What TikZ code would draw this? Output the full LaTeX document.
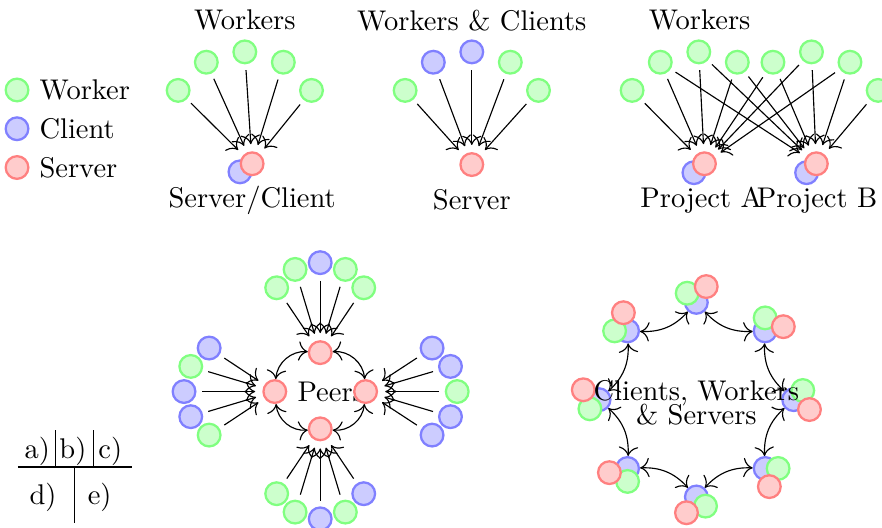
\documentclass[tikz,border=0pt]{standalone}
\usetikzlibrary{positioning,calc,arrows.meta}

\begin{document}
\begin{tikzpicture}[
        >={To[scale=1.3]},
        nodo/.style={circle, line width=0.8pt, minimum size=0.28cm, inner sep=0pt},
        worker/.style={nodo, draw=green!50, fill=green!20},
        client/.style={nodo, draw=blue!50, fill=blue!20},
        server/.style={nodo, draw=red!50, fill=red!20},
        flecha/.style={->, shorten >=2.5pt, shorten <=2pt}
    ]
                \useasboundingbox (0,0) rectangle (10.88,6.51);

                % Leyenda
                \node[worker] (lw) at (0.21,5.40) {};
                \node[client, below=0.17cm of lw] (lc) {};
                \node[server, below=0.17cm of lc] (ls) {};
                \node[right=0pt of lw] (tw) {Worker};
                \node[right=0pt of lc] (tcl) {Client};
                \node[right=0pt of ls] (tsv) {Server};

                % a) Servidor y cliente
                \node (ta) at (3.02,6.26) {Workers};
                \node[client] (a-c) at (2.96,4.39) {};
                \node[server] (a-s) at (3.11,4.49) {};
                \node (la) at (3.11,4.04) {Server/Client};
                \foreach \ang [count=\i] in {150,120,90,60,30} {
                    \node[worker] (a-w\i) at ($(3.02,4.92)+(\ang:0.95)$) {};
                    \draw[flecha] (a-w\i) -- (a-s);
                }

                % b) Servidor
                \node (tb) at (5.82,6.26) {Workers \& Clients};
                \node[server] (b-s) at (5.82,4.48) {};
                \node (lb) at (5.82,4.04) {Server};
                \foreach \ang/\tipo [count=\i] in {150/worker,120/client,90/client,60/worker,30/worker} {
                    \node[\tipo] (b-w\i) at ($(5.82,4.92)+(\ang:0.95)$) {};
                    \draw[flecha] (b-w\i) -- (b-s);
                }

                % c) Dos proyectos
                \node (tc) at (8.63,6.26) {Workers};
                \node[client] (pa-c) at (8.56,4.38) {};
                \node[server] (pa-s) at (8.69,4.49) {};
                \node[client] (pb-c) at (9.95,4.38) {};
                \node[server] (pb-s) at (10.07,4.49) {};
                \node (lpa) at (8.65,4.04) {Project A};
                \node (lpb) at (10.08,4.04) {Project B};
                \foreach \ang [count=\i] in {150,120,90,60}
                    \node[worker] (c-a\i) at ($(8.62,4.92)+(\ang:0.95)$) {};
                \foreach \ang [count=\i] in {120,90,60,30}
                    \node[worker] (c-b\i) at ($(10.01,4.92)+(\ang:0.95)$) {};
                \draw[flecha] (c-a1) -- (pa-s);
                \foreach \i in {2,3,4} {
                    \draw[flecha] (c-a\i) -- (pa-s);
                    \draw[flecha] (c-a\i) -- (pb-s);
                }
                \foreach \i in {1,2,3} {
                    \draw[flecha] (c-b\i) -- (pa-s);
                    \draw[flecha] (c-b\i) -- (pb-s);
                }
                \draw[flecha] (c-b4) -- (pb-s);

                % d) Peers
                \node (ld) at (4.08,1.68) {Peers};
                \node[server] (d-top) at (3.95,2.16) {};
                \node[server] (d-left) at (3.39,1.68) {};
                \node[server] (d-right) at (4.51,1.68) {};
                \node[server] (d-bottom) at (3.95,1.22) {};
                \foreach \ang/\tipo [count=\i] in {150/worker,120/worker,90/client,60/worker,30/worker} {
                    \node[\tipo] (d-t\i) at ($(3.95,2.65)+(\ang:0.62)$) {};
                    \draw[flecha] (d-t\i) -- (d-top);
                }
                \foreach \ang/\tipo [count=\i] in {120/client,150/worker,180/client,210/client,240/worker} {
                    \node[\tipo] (d-l\i) at ($(2.89,1.68)+(\ang:0.62)$) {};
                    \draw[flecha] (d-l\i) -- (d-left);
                }
                \foreach \ang/\tipo [count=\i] in {60/client,30/client,0/worker,-30/client,-60/client} {
                    \node[\tipo] (d-r\i) at ($(5.02,1.68)+(\ang:0.62)$) {};
                    \draw[flecha] (d-r\i) -- (d-right);
                }
                \foreach \ang/\tipo [count=\i] in {210/worker,240/worker,270/client,300/worker,330/client} {
                    \node[\tipo] (d-b\i) at ($(3.95,0.73)+(\ang:0.62)$) {};
                    \draw[flecha] (d-b\i) -- (d-bottom);
                }
                \draw[<->] (d-top) to[bend right=45] (d-left);
                \draw[<->] (d-top) to[bend left=45] (d-right);
                \draw[<->] (d-left) to[bend right=45] (d-bottom);
                \draw[<->] (d-right) to[bend left=45] (d-bottom);

                % e) Anillo
                \coordinate (centro) at (8.59,1.58);
                \foreach \ang [count=\i] in {90,45,0,-45,-90,-135,180,135} {
                    \node[client] (e-c\i) at ($(centro)+(\ang:1.2)$) {};
                    \node[worker] (e-w\i) at ($(e-c\i)+({\ang+45}:0.16)$) {};
                    \node[server] (e-s\i) at ($(e-c\i)+({\ang-32}:0.23)$) {};
                }
                \foreach \i/\j in {1/2,2/3,3/4,4/5,5/6,6/7,7/8,8/1}
                    \draw[<->] (e-c\j) to[bend left=25] (e-c\i);
                \node[align=center] (le) at ($(centro)+(0,-0.04)$) {Clients, Workers\\[-3.5pt]\& Servers};

                % Clave
                \node (ka) at (0.46,0.94) {a)};
                \node (kb) at (0.90,0.94) {b)};
                \node (kc) at (1.36,0.94) {c)};
                \node (kd) at (0.53,0.38) {d)};
                \node (ke) at (1.23,0.38) {e)};
                \draw (0.22,0.75) -- (1.63,0.75);
                \draw (0.68,0.75) -- (0.68,1.21);
                \draw (1.15,0.75) -- (1.15,1.21);
                \draw (0.92,0.75) -- (0.92,0.06);

            \end{tikzpicture}
\end{document}
